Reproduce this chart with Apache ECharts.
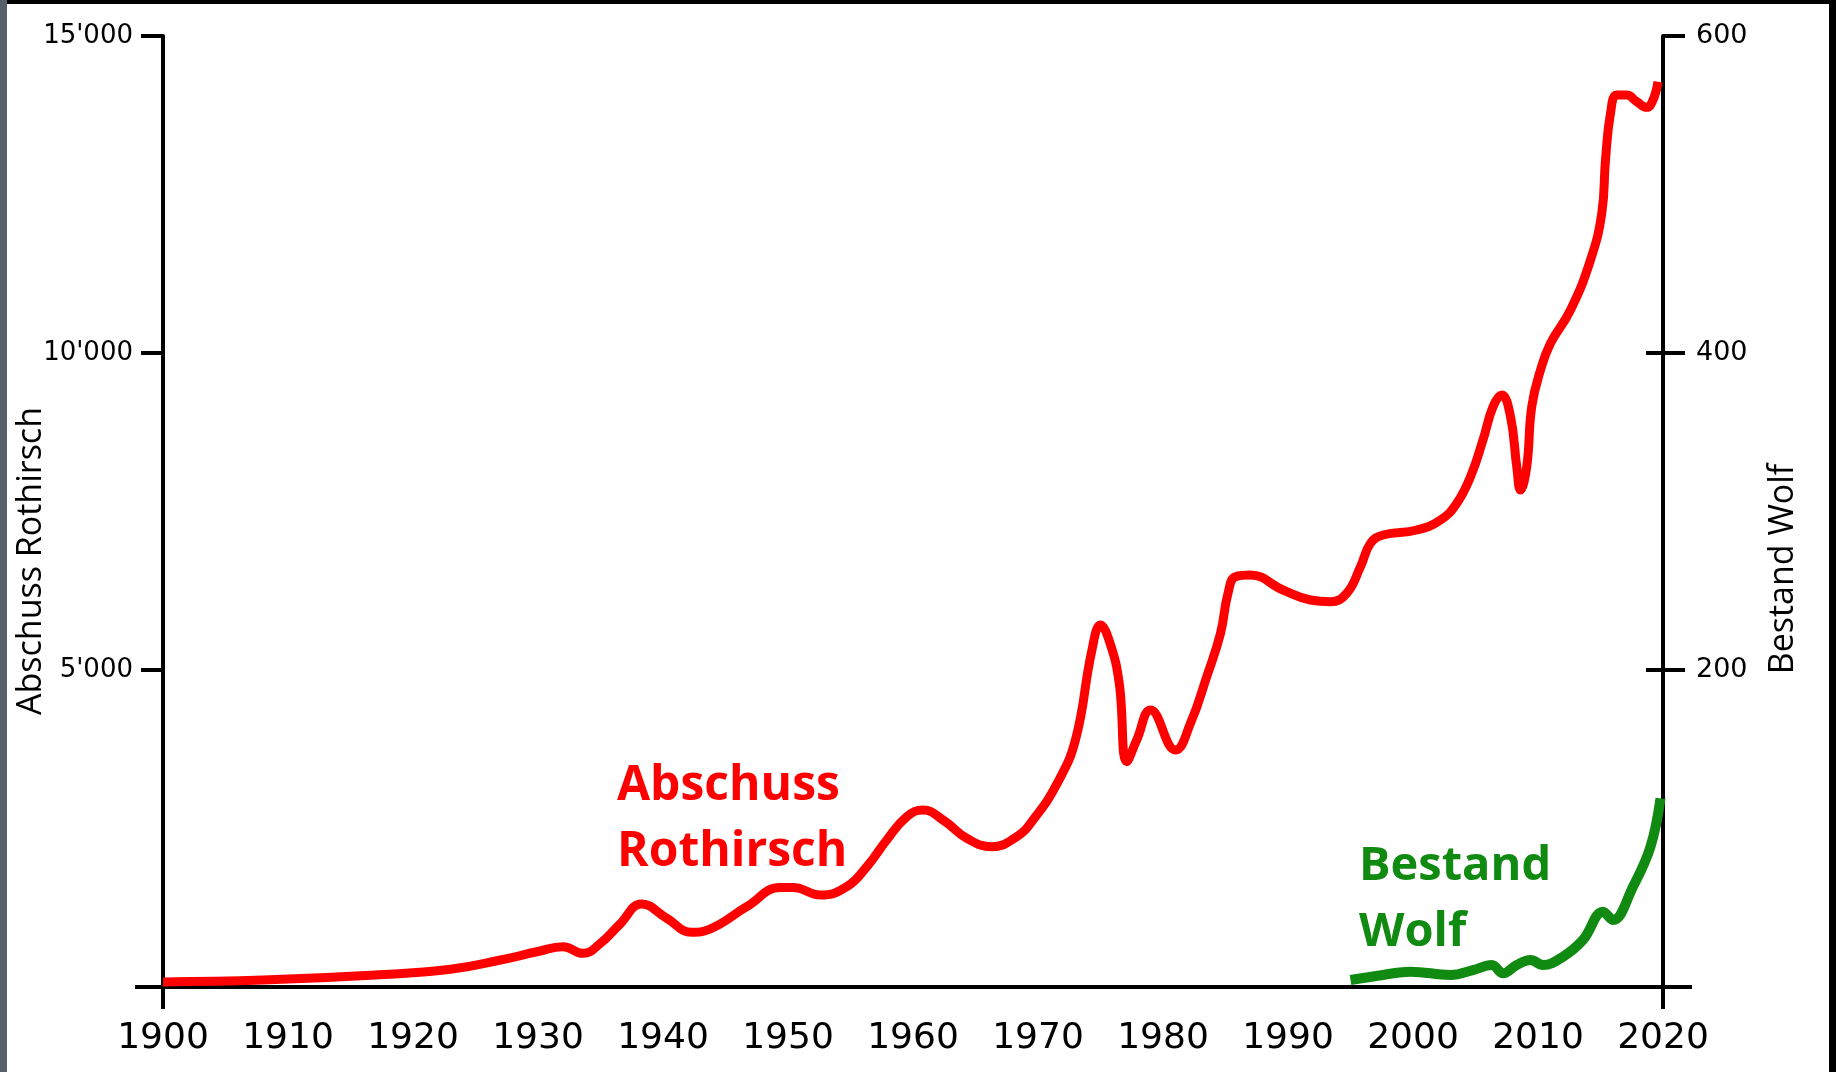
<!DOCTYPE html>
<html>
<head>
<meta charset="utf-8">
<script src="https://cdn.jsdelivr.net/npm/echarts@6/dist/echarts.min.js"></script>
<style>
html,body{margin:0;padding:0;background:#000;}
#chart{width:1836px;height:1072px;}
</style>
</head>
<body>
<div id="chart"></div>
<script>
// ---- data ----
const hirschYears = [1900,1908,1917,1923,1927,1930,1932,1933.6,1935,1936.5,1938.3,1940.3,1942.3,1943.7,1946.7,1949.4,1950.4,1952.6,1954.7,1956.3,1957.9,1959.5,1960.8,1962.5,1964.3,1966.3,1968.3,1969.6,1971.5,1973.0,1974.3,1975.0,1975.8,1976.5,1977.1,1977.9,1979.0,1981.0,1982.2,1983.5,1984.6,1985.2,1985.8,1987.0,1989.6,1991.8,1993.4,1994.7,1995.8,1996.6,1997.6,2000.3,2002.2,2003.5,2004.6,2005.6,2006.4,2007.1,2007.8,2008.3,2008.6,2009.1,2009.5,2010.2,2011.0,2012.6,2014.2,2015.1,2015.4,2015.8,2016.3,2017.1,2017.9,2018.7,2019.2,2019.6];
const hirschValues = [80,110,190,280,426,560,636,531,689,980,1309,1084,863,910,1267,1570,1570,1451,1582,1897,2319,2686,2792,2620,2345,2213,2371,2634,3200,3900,5300,5710,5400,4790,3554,3896,4369,3738,4159,4895,5579,6210,6472,6498,6262,6104,6077,6210,6630,6999,7129,7208,7366,7629,8049,8628,9153,9338,8996,8207,7839,8207,9153,9732,10153,10678,11467,12203,13044,13780,14069,14069,13964,13875,13990,14279];
const wolfYears = [1995.0,1997.6,1999.8,2003.0,2004.8,2006.3,2007.2,2008.3,2009.4,2010.4,2012.0,2013.6,2015.2,2016.0,2017.6,2019.0,2019.8];
const wolfValues = [4.4,7.6,9.7,7.6,10.7,13.9,8.6,13.9,17.0,13.9,19.1,29.7,47.5,42.3,63.3,88.5,119];
const yearTicks = [1900,1910,1920,1930,1940,1950,1960,1970,1980,1990,2000,2010,2020];
const leftTickValues = [0,5000,10000,15000];
const leftTickLabels = ["","5'000","10'000","15'000"];
const rightTickValues = [0,200,400,600];
const rightTickLabels = ["","200","400","600"];
const seriesNames = ["Abschuss Rothirsch","Bestand Wolf"];

const RED = '#ff0000';
const GREEN = '#108a10';
const NUMFONT = 'DejaVu Sans';

const chart = echarts.init(document.getElementById('chart'), null, {renderer:'canvas'});
const axisLine = {show:true, lineStyle:{color:'#000', width:4}};
const tickStyle = {color:'#000', width:4};
function helperAxis(pos, max, values, len, inside){
  return {type:'value', position:pos, min:0, max:max, interval:max/3,
    axisLine:{show:false},
    axisTick:{show:true, inside:inside, customValues:values, length:len, lineStyle:tickStyle},
    axisLabel:{show:false}, splitLine:{show:false}};
}
const option = {
  backgroundColor:'#ffffff',
  animation:false,
  grid:{left:163, right:173, top:36, bottom:85, containLabel:false},
  xAxis:{
    type:'value', min:1900, max:2020, interval:10,
    axisLine:axisLine,
    axisTick:{show:true, customValues:[yearTicks[0], yearTicks[yearTicks.length-1]], length:22, inside:false, lineStyle:tickStyle},
    axisLabel:{show:true, margin:34, color:'#000', fontFamily:NUMFONT, fontSize:36,
      formatter:function(v){ return yearTicks.indexOf(v)>=0 ? String(v) : ''; }},
    splitLine:{show:false}
  },
  yAxis:[
    {type:'value', position:'left', min:0, max:15000, interval:5000,
     axisLine:axisLine,
     axisTick:{show:true, length:22, lineStyle:tickStyle},
     axisLabel:{margin:30, color:'#000', fontFamily:NUMFONT, fontSize:26,
       formatter:function(v){ const i = leftTickValues.indexOf(v); return i>=0 ? leftTickLabels[i] : ''; }},
     splitLine:{show:false}},
    {type:'value', position:'right', min:0, max:600, interval:200,
     axisLine:axisLine,
     axisTick:{show:true, length:22, lineStyle:tickStyle},
     axisLabel:{margin:33, color:'#000', fontFamily:NUMFONT, fontSize:27,
       formatter:function(v){ const i = rightTickValues.indexOf(v); return i>=0 ? rightTickLabels[i] : ''; }},
     splitLine:{show:false}},
    helperAxis('right', 600, [rightTickValues[1], rightTickValues[2]], 17, true),
    helperAxis('right', 600, [rightTickValues[0]], 29, false),
    helperAxis('left', 15000, [leftTickValues[0]], 28, false)
  ],
  series:[
    {name:seriesNames[0], type:'line', yAxisIndex:0, showSymbol:false, smooth:0.45,
     lineStyle:{color:RED, width:9, cap:'butt', join:'round'},
     data:hirschYears.map(function(y,i){return [y, hirschValues[i]];}), z:3},
    {name:seriesNames[1], type:'line', yAxisIndex:1, showSymbol:false, smooth:0.4,
     lineStyle:{color:GREEN, width:10, cap:'butt', join:'round'},
     data:wolfYears.map(function(y,i){return [y, wolfValues[i]];}), z:3}
  ],
  graphic:[
    {type:'rect', left:0, top:0, shape:{width:1836, height:4}, style:{fill:'#000'}, silent:true},
    {type:'rect', left:1829, top:0, shape:{width:7, height:1072}, style:{fill:'#000'}, silent:true},
    {type:'rect', left:0, top:0, shape:{width:7, height:1072}, style:{fill:'#55606a'}, silent:true},
    {type:'text', x:31, y:561, rotation:Math.PI/2,
     style:{text:'Abschuss Rothirsch', font:'34px "Open Sans"', fill:'#000', align:'center', verticalAlign:'middle'}},
    {type:'text', x:1783, y:569, rotation:Math.PI/2,
     style:{text:'Bestand Wolf', font:'34px "Open Sans"', fill:'#000', align:'center', verticalAlign:'middle'}},
    {type:'text', x:617, y:786,
     style:{text:'Abschuss', font:'bold 48px "Open Sans"', fill:RED, align:'left', verticalAlign:'middle'}},
    {type:'text', x:617, y:852,
     style:{text:'Rothirsch', font:'bold 48px "Open Sans"', fill:RED, align:'left', verticalAlign:'middle'}},
    {type:'text', x:1359, y:867,
     style:{text:'Bestand', font:'bold 47px "Open Sans"', fill:GREEN, align:'left', verticalAlign:'middle'}},
    {type:'text', x:1359, y:933,
     style:{text:'Wolf', font:'bold 47px "Open Sans"', fill:GREEN, align:'left', verticalAlign:'middle'}}
  ]
};
chart.setOption(option);
</script>
</body>
</html>
